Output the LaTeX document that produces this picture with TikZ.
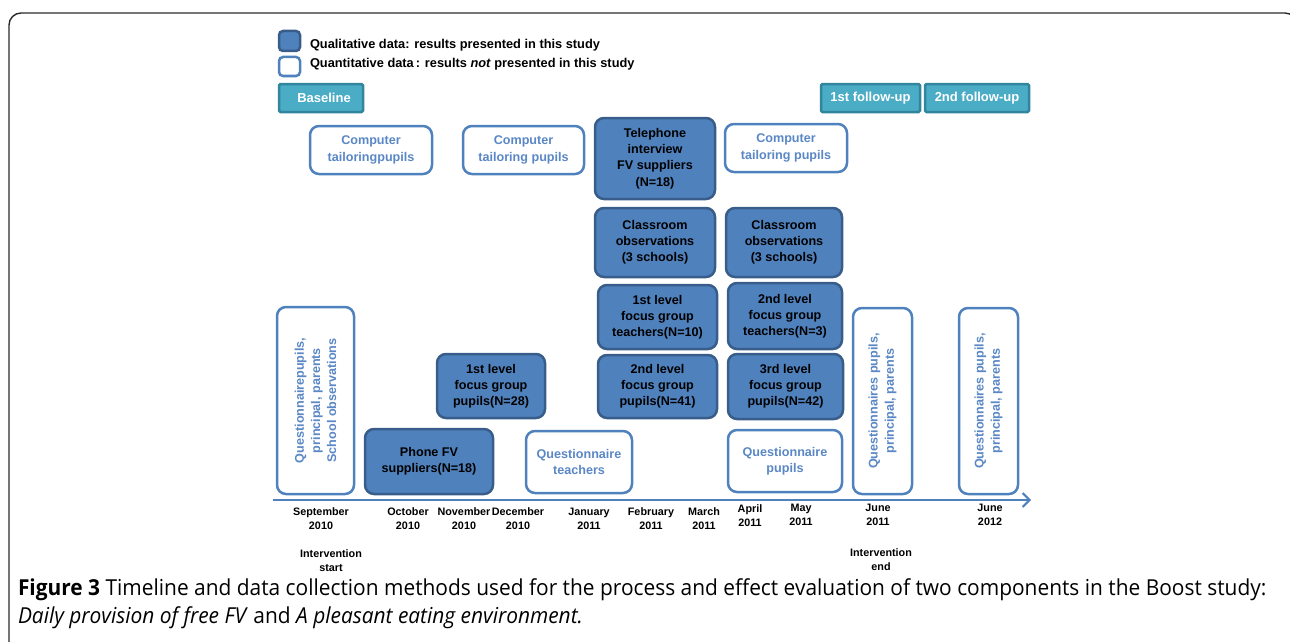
\documentclass[tikz,border=0pt]{standalone}
\usepackage{fontspec}
\setsansfont{Liberation Sans}
\newfontfamily\capfont[FakeStretch=0.95]{Open Sans}
\usetikzlibrary{arrows.meta}

\definecolor{qualfill}{HTML}{4F81BD}
\definecolor{qualdraw}{HTML}{385D8A}
\definecolor{quantdraw}{HTML}{4F81BD}
\definecolor{quanttext}{HTML}{5A87C5}
\definecolor{phasefill}{HTML}{4BACC6}
\definecolor{phasedraw}{HTML}{31859C}
\definecolor{framecol}{HTML}{2A2A2A}

\tikzset{
  every node/.style={inner sep=0pt, outer sep=0pt},
  boxtext/.style={font=\sffamily\bfseries\fontsize{12.6}{16.2}\selectfont, align=center},
  qual/.style={boxtext, rectangle, rounded corners=9pt, draw=qualdraw, fill=qualfill,
    line width=2.5pt, text=black},
  quant/.style={boxtext, rectangle, rounded corners=9pt, draw=quantdraw, fill=white,
    line width=2.5pt, text=quanttext},
  phase/.style={rectangle, rounded corners=1.5pt, draw=phasedraw, fill=phasefill,
    line width=2.5pt, text=white, font=\sffamily\bfseries\fontsize{13}{15}\selectfont},
  legendtext/.style={anchor=west, font=\sffamily\bfseries\fontsize{12.8}{15}\selectfont},
  month/.style={align=center, font=\sffamily\bfseries\fontsize{10.8}{14}\selectfont},
  axisline/.style={draw=quantdraw, line width=2pt, -{Straight Barb[length=7pt,width=14pt,line width=2pt]}},
}

\begin{document}
\begin{tikzpicture}[x=1pt,y=-1pt]
\useasboundingbox (0,0) rectangle (1290,642);

% outer frame
\draw[framecol, line width=1.4pt, rounded corners=12pt] (9,660) -- (9,13) -- (1297,13) -- (1297,660);

% legend
\node[qual, rounded corners=4pt, minimum width=21pt, minimum height=20pt] (legqual) at (289.5,41) {};
\node[quant, rounded corners=4pt, minimum width=21pt, minimum height=19pt] (legquant) at (289.5,66.5) {};
\node[legendtext] (legqualtxt) at (310,45) {Qualitative data: results presented in this study};
\node[legendtext] (legquanttxt) at (310,64) {Quantitative data\,: results \textit{not} presented in this study};

% study phases
\node[phase, minimum width=84pt, minimum height=28pt] (baseline) at (321,98) {\hspace*{6pt}Baseline};
\node[phase, minimum width=99pt, minimum height=28pt] (fu1) at (870.5,98) {1st follow-up};
\node[phase, minimum width=104pt, minimum height=28pt] (fu2) at (977,98) {2nd follow-up};

% top row
\node[quant, minimum width=122pt, minimum height=48pt] (ct1) at (371,150) {Computer\\tailoringpupils};
\node[quant, minimum width=121pt, minimum height=48pt] (ct2) at (523.5,150) {Computer\\tailoring pupils};
\node[qual, minimum width=120pt, minimum height=81pt] (tel) at (655,158.5) {Telephone\\interview\\FV suppliers\\(N=18)};
\node[quant, minimum width=122pt, minimum height=48pt] (ct3) at (786,148) {Computer\\tailoring pupils};

% classroom observations
\node[qual, minimum width=120pt, minimum height=69pt] (cls1) at (655,242.5) {Classroom\\observations\\(3 schools)};
\node[qual, minimum width=116pt, minimum height=69pt] (cls2) at (784,242.5) {Classroom\\observations\\(3 schools)};

% focus groups
\node[qual, minimum width=119pt, minimum height=64pt] (fgt1) at (657.5,317) {1st level\\focus group\\teachers(N=10)};
\node[qual, minimum width=119pt, minimum height=63pt] (fgp2) at (657.5,386.5) {2nd level\\focus group\\pupils(N=41)};
\node[qual, minimum width=108pt, minimum height=64pt] (fgp1) at (491,386) {1st level\\focus group\\pupils(N=28)};
\node[qual, minimum width=114pt, minimum height=66pt] (fgt2) at (785,316) {2nd level\\focus group\\teachers(N=3)};
\node[qual, minimum width=115pt, minimum height=65pt] (fgp3) at (785.5,386.5) {3rd level\\focus group\\pupils(N=42)};

% bottom row
\node[qual, minimum width=128pt, minimum height=65pt] (phone) at (429,461.5) {Phone FV\\suppliers(N=18)};
\node[quant, minimum width=106pt, minimum height=62pt] (qteach) at (579,462) {Questionnaire\\teachers};
\node[quant, minimum width=114pt, minimum height=62pt] (qpup) at (785,461) {Questionnaire\\pupils};

% tall questionnaire boxes
\node[quant, minimum width=77pt, minimum height=187pt] (qbase) at (315.5,400.5) {};
\node[boxtext, text=quanttext, rotate=90] (qbasetxt) at (qbase.center) {Questionnairepupils,\\principal, parents\\School observations};
\node[quant, minimum width=59pt, minimum height=186pt] (q2011) at (882.5,401) {};
\node[boxtext, text=quanttext, rotate=90] (q2011txt) at (q2011.center) {Questionnaires pupils,\\principal, parents};
\node[quant, minimum width=59pt, minimum height=186pt] (q2012) at (988.5,401) {};
\node[boxtext, text=quanttext, rotate=90] (q2012txt) at (q2012.center) {Questionnaires pupils,\\principal, parents};

% time axis
\coordinate (axstart) at (273,500);
\coordinate (axend) at (1031,500);
\draw[axisline] (axstart) -- (axend);

% months
\node[month] (m1) at (321,519) {September\\2010};
\node[month] (m2) at (408,519) {October\\2010};
\node[month] (m3) at (464,519) {November\\2010};
\node[month] (m4) at (518,519) {December\\2010};
\node[month] (m5) at (589,519) {January\\2011};
\node[month] (m6) at (651,519) {February\\2011};
\node[month] (m7) at (704,519) {March\\2011};
\node[month] (m8) at (750,516) {April\\2011};
\node[month] (m9) at (801,515) {May\\2011};
\node[month] (m10) at (878,515) {June\\2011};
\node[month] (m11) at (990,515) {June\\2012};

\node[month] (istart) at (331,561) {Intervention\\start};
\node[month] (iend) at (881,560) {Intervention\\end};

% caption
\node[anchor=west, font=\capfont\fontsize{22}{28}\selectfont, align=left] (caption) at (18,604)
  {{\bfseries Figure 3} Timeline and data collection methods used for the process and effect evaluation of two components in the Boost study:\\
   \textit{Daily provision of free FV} and \textit{A pleasant eating environment.}};
\end{tikzpicture}
\end{document}
